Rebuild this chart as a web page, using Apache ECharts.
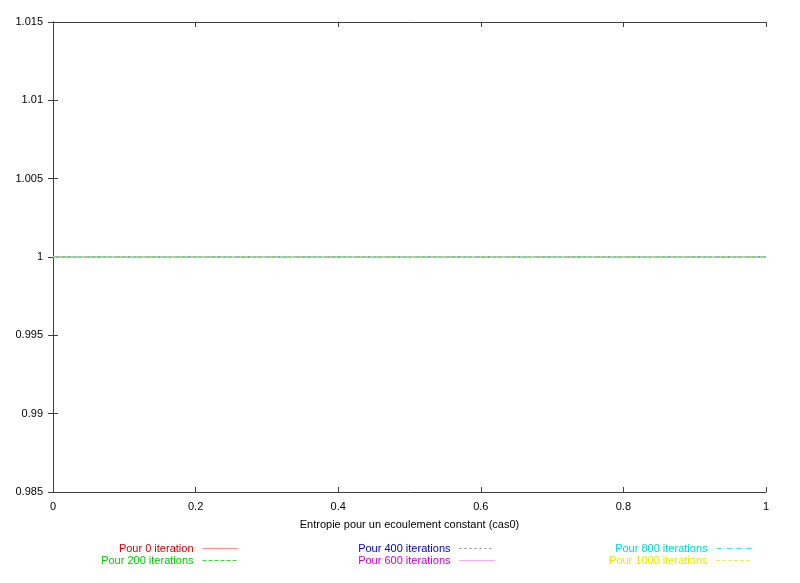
<!DOCTYPE html>
<html>
<head>
<meta charset="utf-8">
<script src="https://cdn.jsdelivr.net/npm/echarts@6/dist/echarts.min.js"></script>
<style>html,body{margin:0;padding:0;background:#fff}#c{width:800px;height:583px}</style>
</head>
<body>
<div id="c"></div>
<script>
const xValues = [0, 1];
const seriesNames = ['Pour 0 iteration', 'Pour 200 iterations', 'Pour 400 iterations', 'Pour 600 iterations', 'Pour 800 iterations', 'Pour 1000 iterations'];
const iter0 = [1, 1];
const iter200 = [1, 1];
const iter400 = [1, 1];
const iter600 = [1, 1];
const iter800 = [1, 1];
const iter1000 = [1, 1];
const xTitle = 'Entropie pour un ecoulement constant (cas0)';

const textColors = ['#d00000', '#00c800', '#0000b0', '#c800c8', '#00d8d8', '#e8e800'];
const lineColors = ['#ff9090', '#40d040', '#8080c0', '#e060e0', '#40e0e0', '#e8e040'];
const lineTypes = ['solid', [4, 2], [2, 3], [1, 1], [5, 2, 1, 2], [3, 3]];
const allValues = [iter0, iter200, iter400, iter600, iter800, iter1000];

const font = 'Liberation Sans, Arial, sans-serif';
const axisCol = '#404040';

const series = allValues.map((vals, i) => ({
  name: seriesNames[i],
  type: 'line',
  xAxisIndex: 0, yAxisIndex: 0,
  symbol: 'none',
  data: xValues.map((x, j) => [x, vals[j]]),
  lineStyle: { color: lineColors[i], width: 1, type: lineTypes[i] },
  itemStyle: { color: lineColors[i] },
  animation: false
}));

const legendRight = [562, 305, 48];
const legendTop = [543, 555];
const legends = seriesNames.map((n, i) => ({
  data: [n],
  orient: 'horizontal',
  align: 'right',
  right: legendRight[Math.floor(i / 2)],
  top: legendTop[i % 2],
  padding: 0,
  itemWidth: 35,
  itemHeight: 11,
  itemGap: 0,
  selectedMode: false,
  itemStyle: { opacity: 0 },
  lineStyle: { width: 1 },
  textStyle: { color: textColors[i], fontSize: 11, fontFamily: font, padding: [0, 4, 0, 0] }
}));

const chart = echarts.init(document.getElementById('c'), null, { renderer: 'canvas' });
chart.setOption({
  animation: false,
  backgroundColor: '#fff',
  grid: { left: 53, right: 34, top: 22, bottom: 91, containLabel: false },
  legend: legends,
  xAxis: [
    {
      type: 'value', min: 0, max: 1, interval: 0.2, position: 'bottom',
      name: xTitle, nameLocation: 'middle', nameGap: 27,
      nameTextStyle: { color: '#000', fontSize: 11, fontFamily: font },
      axisLine: { lineStyle: { color: axisCol, width: 1 } },
      axisTick: { inside: true, length: 5, lineStyle: { color: axisCol } },
      axisLabel: { color: '#000', fontSize: 11, fontFamily: font, margin: 9 },
      splitLine: { show: false }
    },
    {
      type: 'value', min: 0, max: 1, interval: 0.2, position: 'top',
      axisLine: { show: true, lineStyle: { color: axisCol, width: 1 } },
      axisTick: { inside: true, length: 5, lineStyle: { color: axisCol } },
      axisLabel: { show: false },
      splitLine: { show: false }
    }
  ],
  yAxis: [
    {
      type: 'value', min: 0.985, max: 1.015, interval: 0.005, position: 'left',
      axisLine: { show: true, lineStyle: { color: axisCol, width: 1 } },
      axisTick: { show: true, inside: true, length: 5, lineStyle: { color: axisCol } },
      axisLabel: { color: '#000', fontSize: 11, fontFamily: font, margin: 10,
        formatter: v => String(parseFloat(v.toFixed(3))) },
      splitLine: { show: false }
    },
    {
      type: 'value', min: 0.985, max: 1.015, interval: 0.005, position: 'right',
      axisLine: { show: true, lineStyle: { color: axisCol, width: 1 } },
      axisTick: { show: true, inside: true, length: 5, lineStyle: { color: axisCol } },
      axisLabel: { show: false },
      splitLine: { show: false }
    }
  ],
  series: series
});
</script>
</body>
</html>
